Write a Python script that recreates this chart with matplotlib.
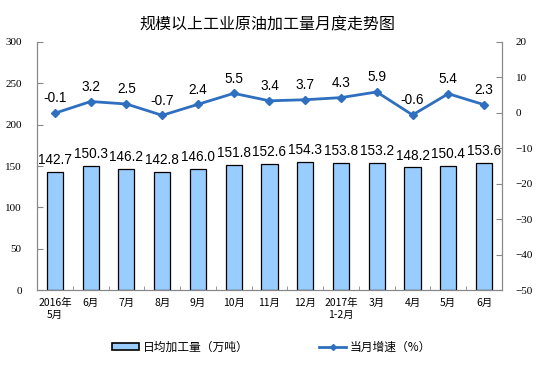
import matplotlib.pyplot as plt
import numpy as np
from matplotlib.lines import Line2D
from matplotlib.patches import Patch

plt.rcParams['font.family'] = ['Liberation Serif', 'Noto Sans CJK SC']

months = ['2016年\n5月', '6月', '7月', '8月', '9月', '10月', '11月', '12月',
          '2017年\n1-2月', '3月', '4月', '5月', '6月']
daily = [142.7, 150.3, 146.2, 142.8, 146.0, 151.8, 152.6, 154.3,
         153.8, 153.2, 148.2, 150.4, 153.6]
growth = [-0.1, 3.2, 2.5, -0.7, 2.4, 5.5, 3.4, 3.7, 4.3, 5.9, -0.6, 5.4, 2.3]

bar_color = '#99CCFF'
line_color = '#2F6FBF'
cjk = ['Noto Sans CJK SC', 'DejaVu Sans']

fig = plt.figure(figsize=(5.54, 3.81), dpi=100)
ax = fig.add_axes([0.0668, 0.2388, 0.8392, 0.651])
x = np.arange(len(months))

ax.bar(x, daily, width=0.45, color=bar_color, edgecolor='black', linewidth=0.9, zorder=2)
for xi, v in zip(x, daily):
    ax.text(xi, v + 6, f'{v:.1f}', ha='center', va='bottom',
            family='Liberation Sans', fontsize=9.8)

ax.set_xlim(-0.5, len(months) - 0.5)
ax.set_ylim(0, 300)
ax.set_yticks(range(0, 301, 50))
ax.set_xticks(x)
ax.set_xticklabels(months, fontsize=7.5, family=cjk)
ax.set_xticks(np.arange(-0.5, len(months)), minor=True)
ax.tick_params(axis='x', which='major', length=0, pad=6)
ax.tick_params(axis='x', which='minor', length=3, direction='in', color='#888888')
ax.tick_params(axis='y', direction='in', length=4, color='#888888', labelsize=8, pad=11)
for s in ax.spines.values():
    s.set_color('#888888')
    s.set_linewidth(0.8)
ax.spines['top'].set_visible(False)

ax2 = ax.twinx()
ax2.plot(x, growth, color=line_color, linewidth=2, marker='D', markersize=4.5, zorder=3)
for xi, v in zip(x, growth):
    ax2.text(xi, v + 2.2, f'{v:.1f}', ha='center', va='bottom',
             family='Liberation Sans', fontsize=9.8)
ax2.set_ylim(-50, 20)
ax2.set_yticks(range(-50, 21, 10))
ax2.tick_params(axis='y', direction='in', length=4, color='#888888', labelsize=8, pad=10)
for s in ax2.spines.values():
    s.set_color('#888888')
    s.set_linewidth(0.8)
ax2.spines['top'].set_visible(False)

fig.text(0.482, 0.934, '规模以上工业原油加工量月度走势图', ha='center', va='center',
         family=cjk, fontsize=11.5)

handles = [Patch(facecolor=bar_color, edgecolor='black', linewidth=1.2),
           Line2D([0], [0], color=line_color, linewidth=2, marker='D', markersize=3)]
labels = ['日均加工量（万吨）', '当月增速（%）']
fig.legend(handles, labels, loc='center', bbox_to_anchor=(0.49, 0.089), ncol=2,
           frameon=False, prop={'family': cjk, 'size': 8.5},
           handlelength=2.3, handleheight=0.6, columnspacing=6, handletextpad=0.3)

fig.savefig('out.png', dpi=100)
